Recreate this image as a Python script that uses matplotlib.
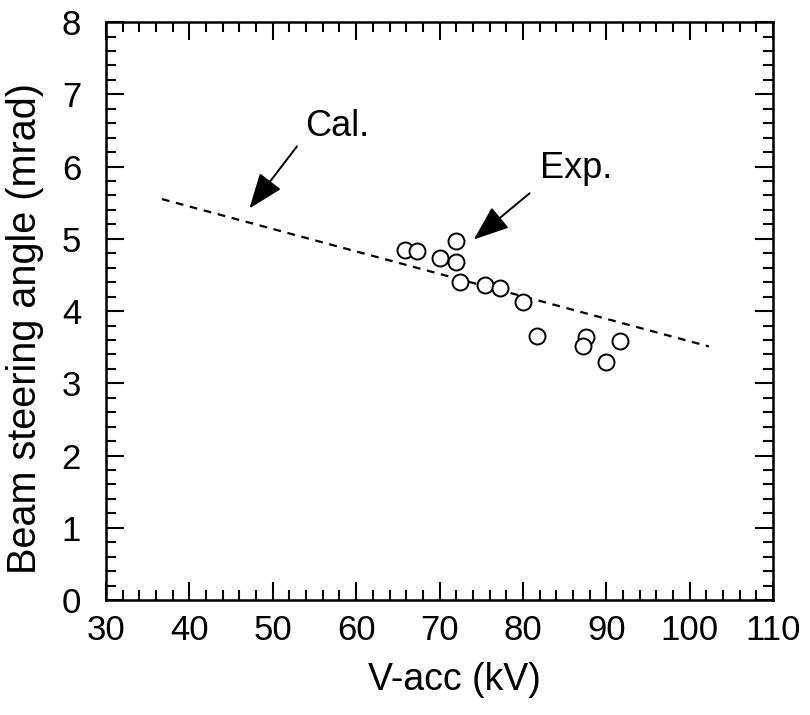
import numpy as np
import matplotlib.pyplot as plt

plt.rcParams['font.family'] = ['Liberation Sans', 'DejaVu Sans']

# measured beam steering angle vs acceleration voltage
exp_v = [65.8, 67.3, 72.0, 70.0, 72.0, 72.4, 75.4, 77.2, 80.0, 81.7, 87.6, 87.2, 91.6, 90.0]
exp_angle = [4.85, 4.83, 4.97, 4.74, 4.68, 4.40, 4.36, 4.32, 4.13, 3.66, 3.64, 3.51, 3.58, 3.30]

# calculated curve
cal_v = [36.7, 102.3]
cal_angle = [5.55, 3.51]

fig = plt.figure(figsize=(8.1, 7.15), dpi=100)
ax = fig.add_axes([0.1309, 0.1608, 0.8235, 0.8083])

ax.plot(cal_v, cal_angle, color='black', lw=1.6, linestyle=(0, (3.5, 3.0)))
ax.plot(exp_v, exp_angle, 'o', mfc='white', mec='black', ms=11.5, mew=1.4, ls='none')

ax.set_xlim(30, 110)
ax.set_ylim(0, 8)
ax.set_xticks(np.arange(30, 111, 10))
ax.set_xticks(np.arange(30, 111, 2), minor=True)
ax.set_yticks(np.arange(0, 9, 1))
ax.set_yticks(np.arange(0, 8.01, 0.2), minor=True)

for s in ax.spines.values():
    s.set_linewidth(1.8)
ax.tick_params(which='both', direction='in', top=True, right=True, width=1.5)
ax.tick_params(which='major', length=13, labelsize=25)
ax.tick_params(which='minor', length=7)
ax.tick_params(axis='x', which='major', pad=10)
ax.tick_params(axis='y', which='major', pad=18)

ax.set_xlabel('V-acc (kV)', fontsize=27, va='center')
ax.xaxis.set_label_coords(0.522, -0.138)
ax.set_ylabel('Beam steering angle (mrad)', fontsize=28.5, va='center')
ax.yaxis.set_label_coords(-0.121, 0.47)

arrow = dict(arrowstyle='-|>,head_length=1.0,head_width=0.38', color='black',
             lw=1.4, mutation_scale=22, shrinkA=0, shrinkB=0)
ax.annotate('', xy=(47.2, 5.42), xytext=(52.9, 6.28), arrowprops=arrow)
ax.annotate('', xy=(74.1, 4.99), xytext=(80.8, 5.63), arrowprops=arrow)
ax.text(57.7, 6.56, 'Cal.', fontsize=26, ha='center', va='center')
ax.text(86.4, 5.97, 'Exp.', fontsize=26, ha='center', va='center')

fig.savefig('out.png', dpi=100)
